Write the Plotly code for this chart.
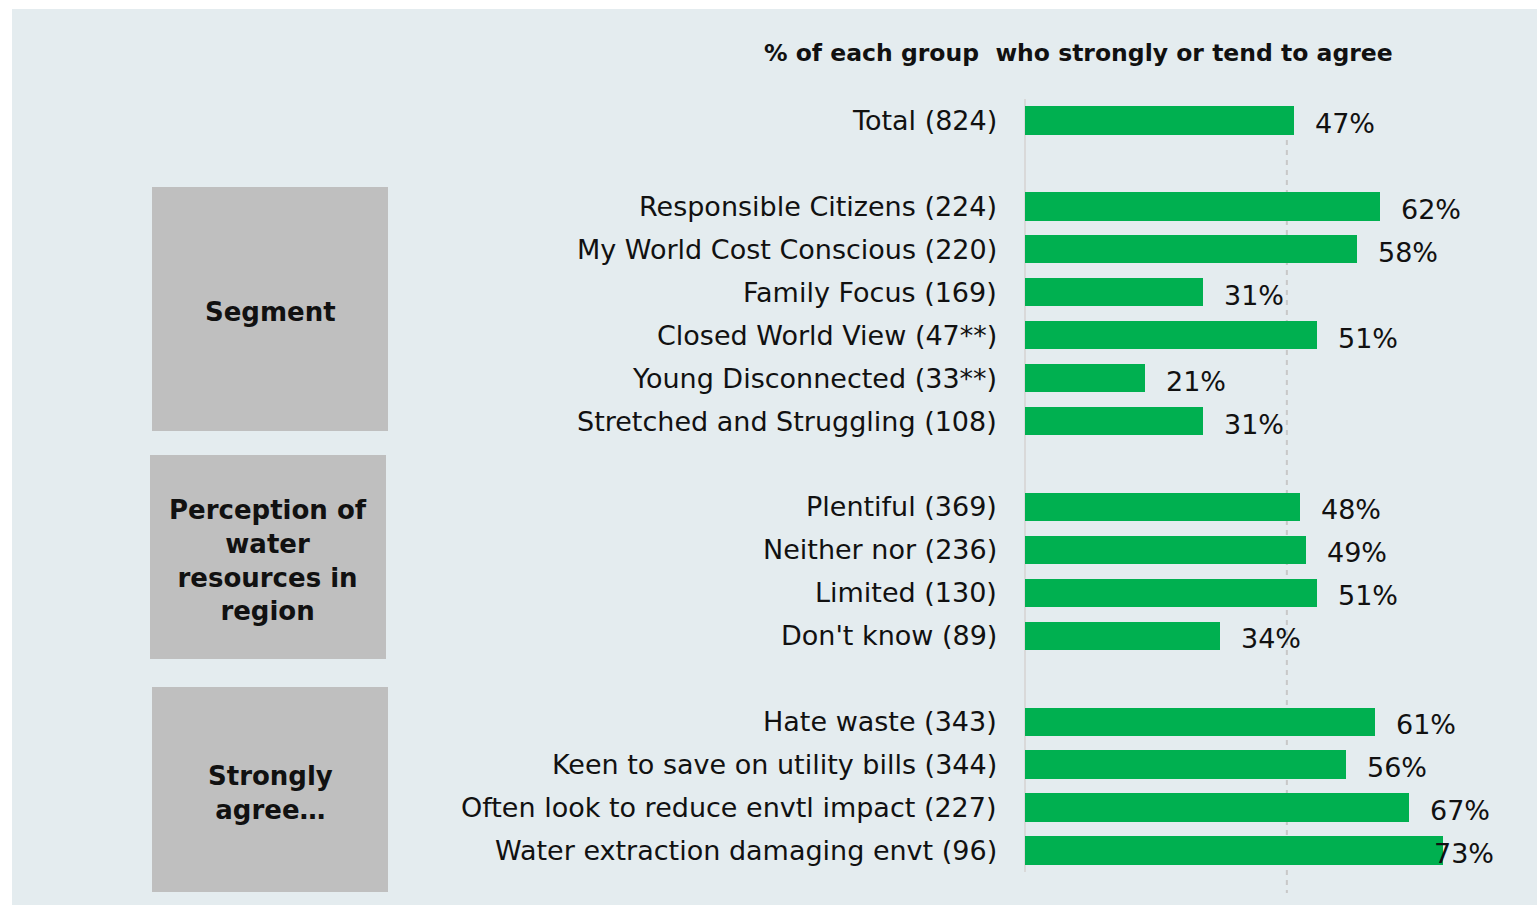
import plotly.graph_objects as go

# ---- data -------------------------------------------------------------
total_label = ["Total (824)"]
total_values = [47]

segment_labels = [
    "Responsible Citizens (224)",
    "My World Cost Conscious (220)",
    "Family Focus (169)",
    "Closed World View (47**)",
    "Young Disconnected (33**)",
    "Stretched and Struggling (108)",
]
segment_values = [62, 58, 31, 51, 21, 31]

perception_labels = [
    "Plentiful (369)",
    "Neither nor (236)",
    "Limited (130)",
    "Don't know (89)",
]
perception_values = [48, 49, 51, 34]

attitude_labels = [
    "Hate waste (343)",
    "Keen to save on utility bills (344)",
    "Often look to reduce envtl impact (227)",
    "Water extraction damaging envt (96)",
]
attitude_values = [61, 56, 67, 73]

group_titles = ["Segment", "Perception of<br>water<br>resources in<br>region", "Strongly<br>agree…"]
chart_title = "% of each group  who strongly or tend to agree"
reference_value = 45.7

# ---- layout geometry (pixels) ----------------------------------------
W, H = 1537, 905
L, R, T, B = 1025, 8, 99, 33
PW, PH = W - L - R, H - T - B
PX_PER_PCT = 5.73
XMAX = PW / PX_PER_PCT


def fx(px):
    return (px - L) / PW


def fy(py):
    return 1 - (py - T) / PH


# rows: one blank slot between groups
groups = [
    (total_label, total_values),
    (segment_labels, segment_values),
    (perception_labels, perception_values),
    (attitude_labels, attitude_values),
]
labels, values, rows = [], [], []
pos = 0
for g_labels, g_values in groups:
    for lab, val in zip(g_labels, g_values):
        labels.append(lab)
        values.append(val)
        rows.append(pos)
        pos += 1
    pos += 1
last_row = rows[-1]

GREEN = "#00b050"
PANEL = "#e4ecef"
BOX = "#bfbfbf"
TEXT = "#111111"
FONT = "DejaVu Sans"

fig = go.Figure(
    go.Bar(
        x=values,
        y=rows,
        orientation="h",
        width=0.66,
        marker=dict(color=GREEN, line=dict(width=0)),
        hoverinfo="skip",
    )
)

shapes = [
    # light panel behind everything
    dict(type="rect", xref="paper", yref="paper",
         x0=fx(12), x1=fx(W + 2), y0=fy(9), y1=fy(H + 2),
         fillcolor=PANEL, line=dict(width=0), layer="below"),
    # dashed reference line
    dict(type="line", xref="x", yref="paper",
         x0=reference_value, x1=reference_value, y0=fy(140), y1=fy(893),
         line=dict(color="#c8c8c8", width=2, dash="5px,5px"), layer="below"),
]

# grey group boxes (left, top, right, bottom in pixels)
box_px = [(152, 187, 388, 431), (150, 455, 386, 659), (152, 687, 388, 892)]
annotations = []
for (x0, y0, x1, y1), title in zip(box_px, group_titles):
    shapes.append(dict(type="rect", xref="paper", yref="paper",
                       x0=fx(x0), x1=fx(x1), y0=fy(y0), y1=fy(y1),
                       fillcolor=BOX, line=dict(width=0), layer="below"))
    annotations.append(dict(
        xref="paper", yref="paper", x=fx((x0 + x1) / 2), y=fy((y0 + y1) / 2 + 3),
        text=f"<b>{title}</b>", showarrow=False, xanchor="center", yanchor="middle",
        align="center", font=dict(family=FONT, size=26, color=TEXT)))

# category labels
for lab, r in zip(labels, rows):
    annotations.append(dict(
        xref="x", yref="y", x=0, y=r, text=lab, showarrow=False,
        xanchor="right", yanchor="middle", xshift=-26,
        font=dict(family=FONT, size=27, color=TEXT)))

# value labels
for v, r in zip(values, rows):
    shift = 19 if v < 70 else -11
    annotations.append(dict(
        xref="x", yref="y", x=v, y=r, text=f"{v}%", showarrow=False,
        xanchor="left", yanchor="middle", xshift=shift, yshift=-3,
        font=dict(family=FONT, size=27, color=TEXT)))

# title
annotations.append(dict(
    xref="paper", yref="paper", x=fx(1078), y=fy(53), text=f"<b>{chart_title}</b>",
    showarrow=False, xanchor="center", yanchor="middle",
    font=dict(family=FONT, size=23.5, color=TEXT)))

fig.update_layout(
    width=W, height=H,
    margin=dict(l=L, r=R, t=T, b=B, autoexpand=False),
    paper_bgcolor="white",
    plot_bgcolor="rgba(0,0,0,0)",
    showlegend=False,
    bargap=0,
    xaxis=dict(range=[0, XMAX], showgrid=False, showticklabels=False, ticks="",
               zeroline=True, zerolinecolor="#d9d9d9", zerolinewidth=2, fixedrange=True),
    yaxis=dict(range=[last_row + 0.5, -0.5], showgrid=False, showticklabels=False,
               ticks="", zeroline=False, fixedrange=True),
    shapes=shapes,
    annotations=annotations,
)

fig.write_html("out.html", config={"displayModeBar": False})
